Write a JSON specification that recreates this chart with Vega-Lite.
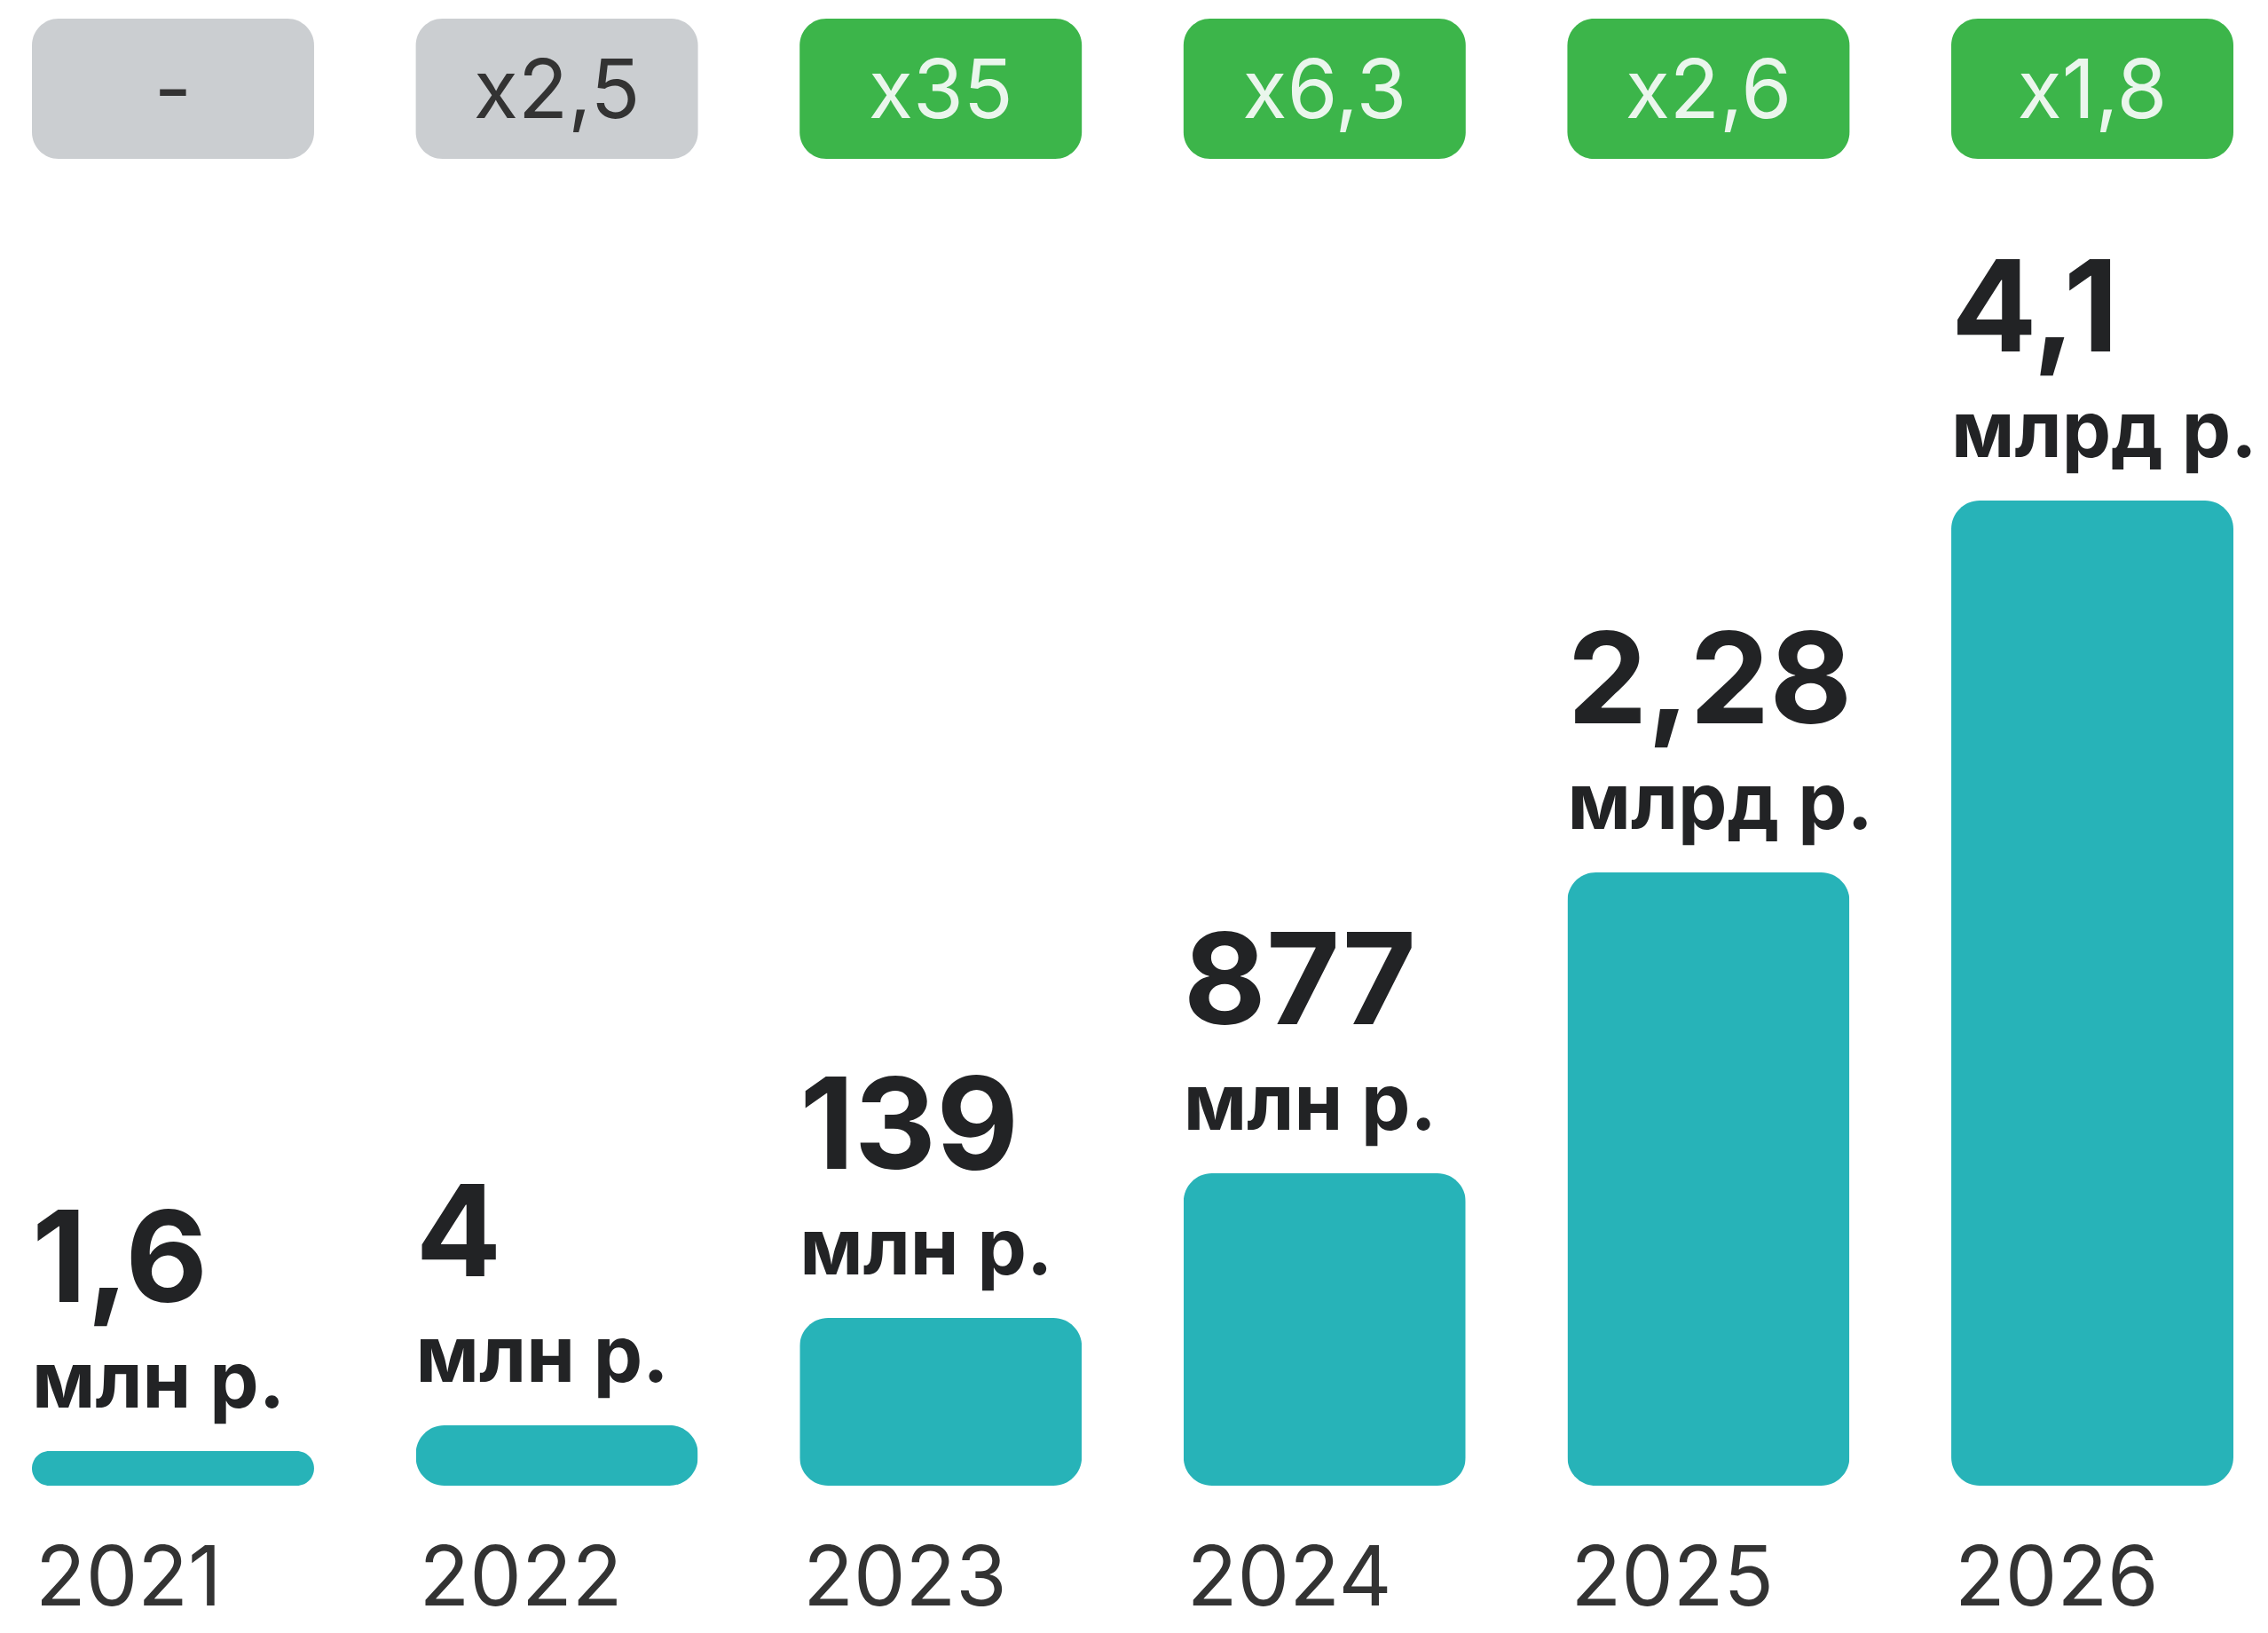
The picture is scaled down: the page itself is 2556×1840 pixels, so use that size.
{
  "$schema": "https://vega.github.io/schema/vega-lite/v6.json",
  "background": "white",
  "padding": {"left": 36, "right": 5, "top": 21, "bottom": 10},
  "spacing": 0,
  "config": {"view": {"stroke": null}, "font": "Inter", "concat": {"spacing": 0}},
  "data": {
    "values": [
      {"year": 2021, "value": 1.6, "label": "1,6", "unit": "млн р.", "growth": "-"},
      {"year": 2022, "value": 4, "label": "4", "unit": "млн р.", "growth": "x2,5"},
      {"year": 2023, "value": 139, "label": "139", "unit": "млн р.", "growth": "x35"},
      {"year": 2024, "value": 877, "label": "877", "unit": "млн р.", "growth": "x6,3"},
      {"year": 2025, "value": 2280, "label": "2,28", "unit": "млрд р.", "growth": "x2,6"},
      {"year": 2026, "value": 4100, "label": "4,1", "unit": "млрд р.", "growth": "x1,8"}
    ]
  },
  "vconcat": [
    {
      "width": 2481,
      "height": 158,
      "layer": [
        {
          "mark": {"type": "bar", "cornerRadius": 30},
          "encoding": {
            "x": {"field": "year", "type": "ordinal", "axis": null, "scale": {"paddingInner": 0.265, "paddingOuter": 0}},
            "color": {"condition": {"test": "datum.year <= 2022", "value": "#CBCED1"}, "value": "#3CB54A"}
          }
        },
        {
          "mark": {"type": "text", "fontSize": 92, "align": "center", "baseline": "middle", "dy": 5},
          "encoding": {
            "x": {"field": "year", "type": "ordinal", "axis": null, "scale": {"paddingInner": 0.265, "paddingOuter": 0}},
            "text": {"field": "growth"},
            "color": {"condition": {"test": "datum.year <= 2022", "value": "#333333"}, "value": "#EAF6EC"}
          }
        }
      ]
    },
    {
      "width": 2481,
      "height": 1495,
      "encoding": {
        "x": {
          "field": "year", "type": "ordinal",
          "scale": {"paddingInner": 0.265, "paddingOuter": 0},
          "axis": {"title": null, "domain": false, "ticks": false, "tickSize": 0, "grid": false, "labelAngle": 0,
                   "labelFontSize": 93, "labelFont": "Inter", "labelColor": "#333333", "labelAlign": "left",
                   "labelBaseline": "alphabetic", "labelPadding": 134, "labelOffset": -155, "labelLimit": 0}
        },
        "y": {
          "field": "value", "type": "quantitative", "axis": null,
          "scale": {"domain": [0, 1.6, 4, 139, 877, 2280, 4100], "range": [1495, 1456, 1427, 1306, 1143, 804, 385], "nice": false, "zero": false}
        }
      },
      "layer": [
        {"mark": {"type": "bar", "cornerRadius": 32, "color": "#27B3B8"}},
        {
          "mark": {"type": "text", "fontSize": 143, "fontWeight": 700, "align": "left", "baseline": "alphabetic", "dy": -168, "color": "#222325"},
          "encoding": {"x": {"field": "year", "type": "ordinal", "bandPosition": 0}, "text": {"field": "label"}}
        },
        {
          "mark": {"type": "text", "fontSize": 88, "fontWeight": 700, "align": "left", "baseline": "alphabetic", "dy": -49, "color": "#222325"},
          "encoding": {"x": {"field": "year", "type": "ordinal", "bandPosition": 0}, "text": {"field": "unit"}}
        }
      ]
    }
  ]
}
